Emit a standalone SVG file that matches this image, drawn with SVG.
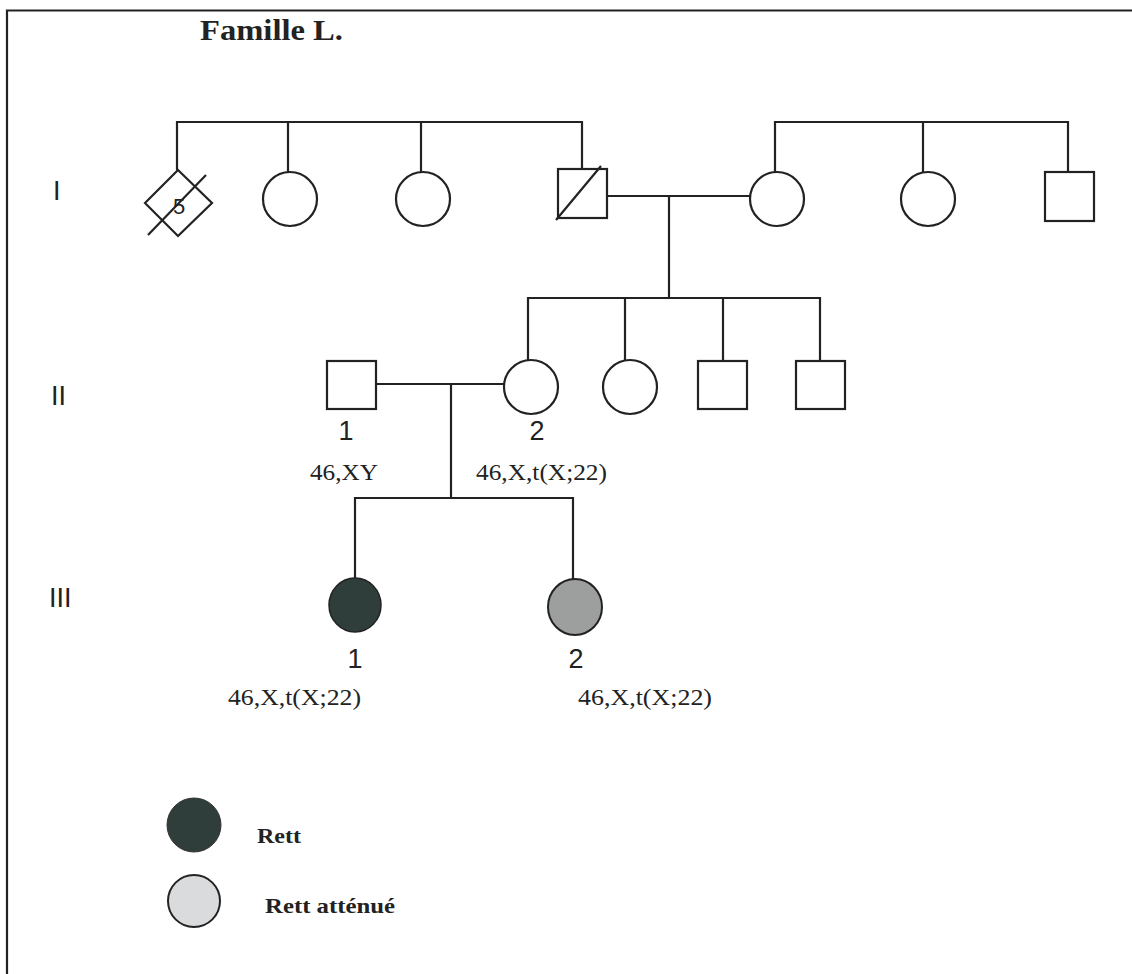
<svg xmlns="http://www.w3.org/2000/svg" width="1132" height="974" viewBox="0 0 1132 974">
<style>
.ln{fill:none;stroke:#222;stroke-width:2.2}
.sym{fill:#fff;stroke:#222;stroke-width:2.2}
.ser{font-family:"Liberation Serif",serif;fill:#222}
.sans{font-family:"Liberation Sans",Arial,sans-serif;fill:#222}
.num{font-size:27px;text-anchor:middle}
.kar{font-size:23px}
</style>
<rect width="1132" height="974" fill="#fff"/>
<path class="ln" d="M7,975 V10.5 H1132" stroke-width="2.6"/>
<text class="ser" x="200" y="40" font-size="29" font-weight="bold" textLength="143" lengthAdjust="spacingAndGlyphs">Famille L.</text>
<g id="gen-labels" class="sans" font-size="27">
<text x="53" y="200">I</text>
<text x="51" y="405">II</text>
<text x="49" y="607">III</text>
</g>
<g id="connectors" class="ln">
<path d="M177,170 V122 H582 V169 M288,122 V172 M421,122 V172"/>
<path d="M775,172 V122 H1068 V172 M923,122 V172"/>
<path d="M607,196 H751 M669,196 V298"/>
<path d="M528,361 V298 H820 V361 M625,298 V361 M723,298 V361"/>
<path d="M376,384 H504 M451,384 V498"/>
<path d="M355,578 V498 H573 V580"/>
</g>
<g id="I-1">
<polygon class="sym" points="178,170 212,203 178,236 145,203"/>
<text class="sans" x="179" y="214" font-size="22" text-anchor="middle">5</text>
<line class="ln" x1="148" y1="235" x2="206" y2="175" stroke-width="2.6"/>
</g>
<g id="I-2"><circle class="sym" cx="290" cy="199" r="27"/></g>
<g id="I-3"><circle class="sym" cx="423" cy="199" r="27"/></g>
<g id="I-4">
<rect class="sym" x="558" y="169" width="49" height="49"/>
<line class="ln" x1="556" y1="220" x2="601" y2="166" stroke-width="2.6"/>
</g>
<g id="I-5"><circle class="sym" cx="777" cy="199" r="27"/></g>
<g id="I-6"><circle class="sym" cx="928" cy="199" r="27"/></g>
<g id="I-7"><rect class="sym" x="1045" y="172" width="49" height="49"/></g>
<g id="II-1">
<rect class="sym" x="327" y="361" width="49" height="48"/>
<text class="sans num" x="346" y="440">1</text>
<text class="ser kar" x="310" y="480" textLength="68" lengthAdjust="spacingAndGlyphs">46,XY</text>
</g>
<g id="II-2">
<circle class="sym" cx="531" cy="387" r="27"/>
<text class="sans num" x="537" y="440">2</text>
<text class="ser kar" x="476" y="480" textLength="131" lengthAdjust="spacingAndGlyphs">46,X,t(X;22)</text>
</g>
<g id="II-3"><circle class="sym" cx="630" cy="387" r="27"/></g>
<g id="II-4"><rect class="sym" x="698" y="361" width="49" height="48"/></g>
<g id="II-5"><rect class="sym" x="796" y="361" width="49" height="48"/></g>
<g id="III-1">
<ellipse cx="355" cy="605" rx="26" ry="27" fill="#2f3d3b" stroke="#222" stroke-width="1.5"/>
<text class="sans num" x="355" y="668">1</text>
<text class="ser kar" x="228" y="705" textLength="133" lengthAdjust="spacingAndGlyphs">46,X,t(X;22)</text>
</g>
<g id="III-2">
<ellipse cx="575" cy="607" rx="27" ry="28" fill="#9c9f9d" stroke="#222" stroke-width="2"/>
<text class="sans num" x="576" y="668">2</text>
<text class="ser kar" x="578" y="705" textLength="134" lengthAdjust="spacingAndGlyphs">46,X,t(X;22)</text>
</g>
<g id="legend-rett">
<circle cx="194" cy="825" r="27" fill="#2f3d3b" stroke="#333" stroke-width="1"/>
<text class="ser" x="257" y="843" font-size="22" font-weight="bold" textLength="44" lengthAdjust="spacingAndGlyphs">Rett</text>
</g>
<g id="legend-attenue">
<circle cx="194" cy="901" r="26" fill="#d9dbdc" stroke="#222" stroke-width="2"/>
<text class="ser" x="265" y="913" font-size="22" font-weight="bold" textLength="130" lengthAdjust="spacingAndGlyphs">Rett atténué</text>
</g>
</svg>
